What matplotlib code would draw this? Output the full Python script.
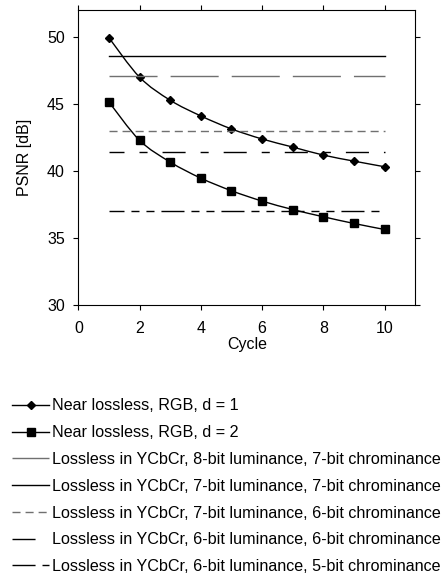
import numpy as np
import matplotlib
matplotlib.use("Agg")
import matplotlib.pyplot as plt
from matplotlib.path import Path
from matplotlib.patches import PathPatch
from matplotlib.lines import Line2D

plt.rcParams['font.family'] = ['Liberation Sans', 'DejaVu Sans']
plt.rcParams['lines.scale_dashes'] = False

cycles = [1, 2, 3, 4, 5, 6, 7, 8, 9, 10]
near_d1 = [49.93, 46.99, 45.27, 44.10, 43.13, 42.38, 41.78, 41.18, 40.73, 40.31]
near_d2 = [45.14, 42.28, 40.66, 39.46, 38.52, 37.75, 37.12, 36.58, 36.08, 35.63]
series_labels = ["Near lossless, RGB, d = 1", "Near lossless, RGB, d = 2"]

ref_labels = [
    "Lossless in YCbCr, 8-bit luminance, 7-bit chrominance",
    "Lossless in YCbCr, 7-bit luminance, 7-bit chrominance",
    "Lossless in YCbCr, 7-bit luminance, 6-bit chrominance",
    "Lossless in YCbCr, 6-bit luminance, 6-bit chrominance",
    "Lossless in YCbCr, 6-bit luminance, 5-bit chrominance",
]
ref_values = [47.11, 48.58, 43.0, 41.41, 37.0]
ref_colors = ['#707070', '#000000', '#707070', '#000000', '#000000']
ref_dashes = [(0, (34.6, 9.4)), None, (0, (5.8, 3.6)),
              (0, (16.6, 10.8, 5.8, 10.8)), (0, (16.6, 5, 5.8, 5, 5.8, 5))]
ref_plot_offsets = [0, 0, 0, 5.8, 5.8]

fig = plt.figure(figsize=(4.45, 5.75), dpi=100)
ax = fig.add_axes([0.176, 0.4696, 0.757, 0.513])


def smooth_path(x, y, t=0.5):
    x = np.asarray(x, float); y = np.asarray(y, float)
    pts = np.column_stack([x, y])
    verts = [pts[0]]
    codes = [Path.MOVETO]
    n = len(pts)
    for i in range(n - 1):
        p0 = pts[i - 1] if i > 0 else pts[i]
        p1 = pts[i]
        p2 = pts[i + 1]
        p3 = pts[i + 2] if i + 2 < n else pts[i + 1]
        c1 = p1 + (p2 - p0) * t / 3
        c2 = p2 - (p3 - p1) * t / 3
        verts += [c1, c2, p2]
        codes += [Path.CURVE4] * 3
    return Path(verts, codes)


for ys, mk, ms in [(near_d1, 'D', 3.8), (near_d2, 's', 5.8)]:
    ax.add_patch(PathPatch(smooth_path(cycles, ys), fill=False, ec='black', lw=1.0,
                           transform=ax.transData))
    ax.plot(cycles, ys, linestyle='none', marker=mk, ms=ms, color='black')

for v, c, d, off in zip(ref_values, ref_colors, ref_dashes, ref_plot_offsets):
    if d is None:
        ax.plot([cycles[0], cycles[-1]], [v, v], color=c, lw=1.0, ls='-')
    else:
        ax.plot([cycles[0], cycles[-1]], [v, v], color=c, lw=1.0, ls=(off, d[1]))

ax.set_xlim(0, 11)
ax.set_ylim(30, 52)
ax.set_xticks([0, 2, 4, 6, 8, 10])
ax.set_yticks([30, 35, 40, 45, 50])
ax.tick_params(direction='out', length=3.6, width=0.8, labelsize=11.5, top=True, right=True,
               labeltop=False, labelright=False)
ax.tick_params(axis='x', pad=8)
ax.tick_params(axis='y', pad=6)
for s in ax.spines.values():
    s.set_linewidth(0.8)
ax.set_xlabel("Cycle", fontsize=11.5, labelpad=1)
ax.set_ylabel("PSNR [dB]", fontsize=11.5, labelpad=11)

handles = [
    Line2D([], [], color='black', lw=1.0, marker='D', ms=3.8),
    Line2D([], [], color='black', lw=1.0, marker='s', ms=5.8),
]
labels = list(series_labels)
for i in range(len(ref_labels)):
    ls = '-' if ref_dashes[i] is None else ref_dashes[i]
    handles.append(Line2D([], [], color=ref_colors[i], lw=1.0, ls=ls))
    labels.append(ref_labels[i])

fig.legend(handles, labels, loc='upper left', bbox_to_anchor=(0.027, 0.307),
           frameon=False, fontsize=11.6, handlelength=2.3, handletextpad=0.2,
           labelspacing=0.73, borderaxespad=0, borderpad=0)

fig.savefig("out.png", dpi=100)
